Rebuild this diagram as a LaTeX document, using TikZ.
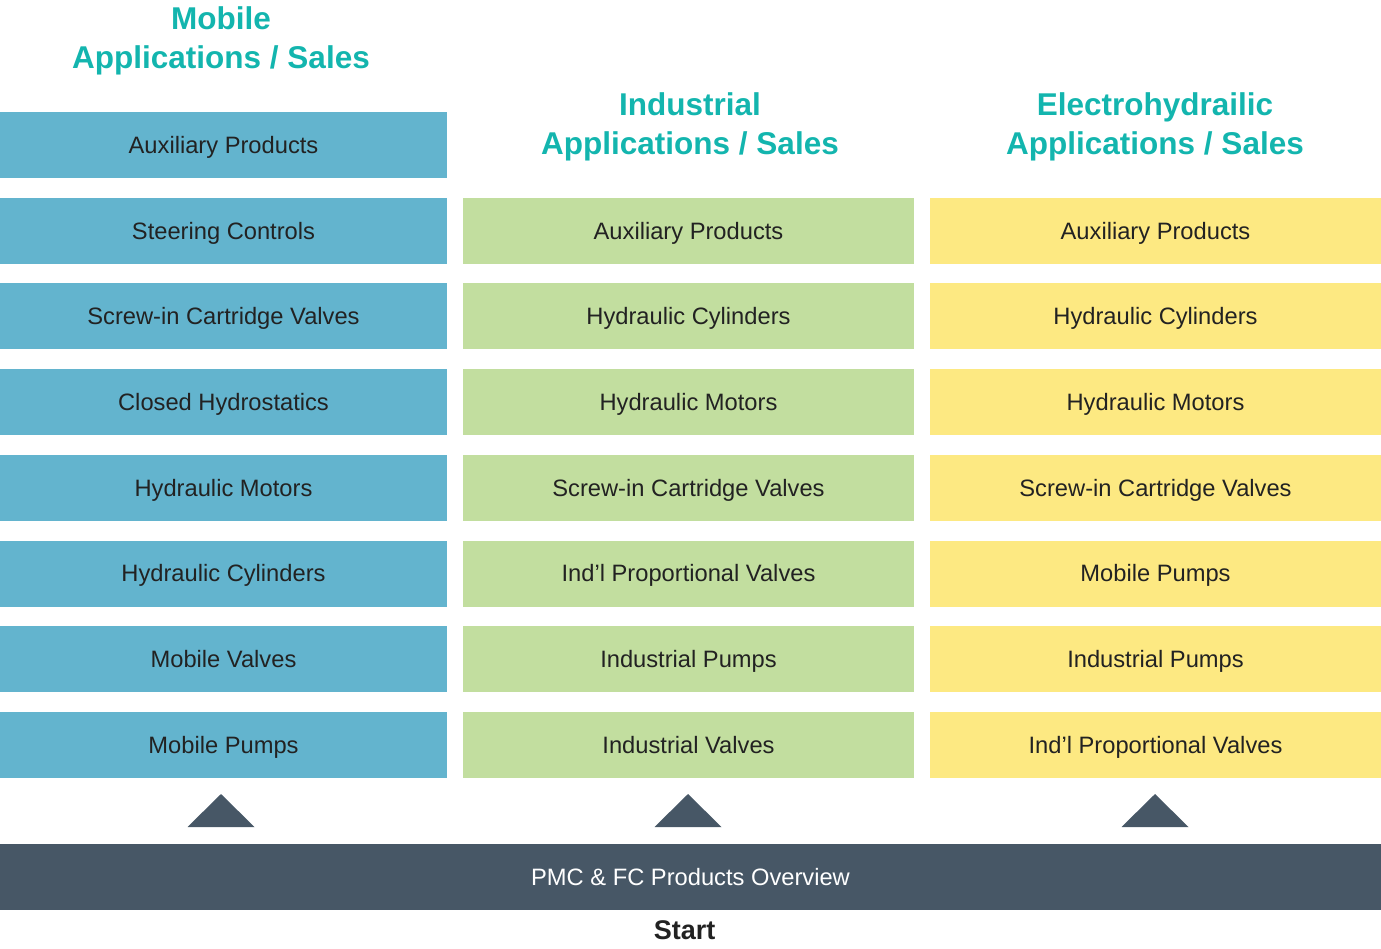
\documentclass[tikz,border=0pt]{standalone}
\usepackage{fontspec}
\setmainfont{Liberation Sans}
\usetikzlibrary{positioning}

\definecolor{mobblue}{HTML}{63B4CE}
\definecolor{indgreen}{HTML}{C2DE9F}
\definecolor{elecyellow}{HTML}{FDE982}
\definecolor{slate}{HTML}{475766}
\definecolor{headteal}{HTML}{13B5AE}
\definecolor{textgray}{HTML}{222222}

\begin{document}
\begin{tikzpicture}[
        x = 1pt, y = -1pt,
        item/.style = {%
            minimum width = 451pt, minimum height = 66pt, inner sep = 0pt,
            text height = 16.8pt, text depth = 0pt,
            text = textgray, font = \fontsize{23.7}{26}\selectfont
        },
        heading/.style = {%
            align = center, text = headteal,
            font = \fontsize{31.5}{39}\selectfont\bfseries
        }
    ]

        % Canvas.
        \useasboundingbox (0, 0) rectangle (1381, 948);

        % Column headings.
        \node[heading] (mobhead)  at (221, 40.5)  {Mobile\\Applications / Sales};
        \node[heading] (indhead)  at (690, 126.5) {Industrial\\Applications / Sales};
        \node[heading] (elechead) at (1155, 126.5) {Electrohydrailic\\Applications / Sales};

        % Mobile column.
        \foreach \name [count = \i] in {Auxiliary Products, Steering Controls,
                Screw-in Cartridge Valves, Closed Hydrostatics, Hydraulic Motors,
                Hydraulic Cylinders, Mobile Valves, Mobile Pumps}{%
            \node[item, fill = mobblue, minimum width = 447pt]
                (mob\i) at (223.5, 59.3 + 85.7*\i) {\name};
        }

        % Industrial column.
        \foreach \name [count = \i] in {Auxiliary Products, Hydraulic Cylinders,
                Hydraulic Motors, Screw-in Cartridge Valves, Ind’l Proportional Valves,
                Industrial Pumps, Industrial Valves}{%
            \node[item, fill = indgreen]
                (ind\i) at (688.5, 145 + 85.7*\i) {\name};
        }

        % Electrohydraulic column.
        \foreach \name [count = \i] in {Auxiliary Products, Hydraulic Cylinders,
                Hydraulic Motors, Screw-in Cartridge Valves, Mobile Pumps,
                Industrial Pumps, Ind’l Proportional Valves}{%
            \node[item, fill = elecyellow]
                (elec\i) at (1155.5, 145 + 85.7*\i) {\name};
        }

        % Arrows up from the base.
        \foreach \cx in {221, 688, 1155}{%
            \fill[slate] (\cx, 794) -- (\cx + 33.5, 827) -- (\cx - 33.5, 827) -- cycle;
        }

        % Base bar.
        \node[item, fill = slate, text = white, minimum width = 1381pt]
            (overview) at (690.5, 877) {PMC \& FC Products Overview};
        \node[font = \fontsize{27}{30}\selectfont\bfseries, text = textgray,
            below = 7pt of overview, xshift = -6pt] (start) {Start};
    \end{tikzpicture}
\end{document}
